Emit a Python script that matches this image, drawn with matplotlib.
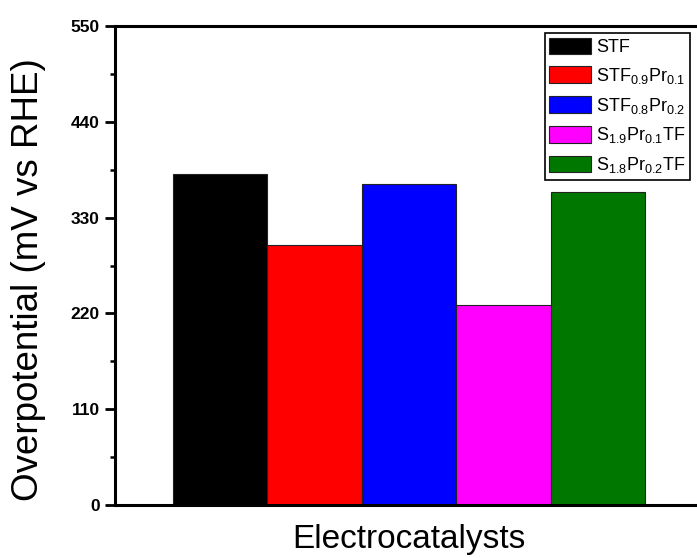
import matplotlib.pyplot as plt
from matplotlib.ticker import MultipleLocator

plt.rcParams['font.family'] = ['Liberation Sans', 'DejaVu Sans']
plt.rcParams['mathtext.fontset'] = 'custom'
plt.rcParams['mathtext.rm'] = 'Liberation Sans'
plt.rcParams['mathtext.it'] = 'Liberation Sans'

catalysts = ['STF', r'STF$_{0.9}$Pr$_{0.1}$', r'STF$_{0.8}$Pr$_{0.2}$',
             r'S$_{1.9}$Pr$_{0.1}$TF', r'S$_{1.8}$Pr$_{0.2}$TF']
overpotential = [380, 298, 369, 230, 359]
colors = ['#000000', '#ff0000', '#0000ff', '#ff00ff', '#007800']
y_ticks = [0, 110, 220, 330, 440, 550]

W, H = 697, 558
fig = plt.figure(figsize=(W / 100, H / 100), dpi=100)
# axes box in pixels: left 115, right 703 (just past the edge), top 26, bottom 505
ax = fig.add_axes([115 / W, (H - 505) / H, 588 / W, 479 / H])

for i, (name, val, c) in enumerate(zip(catalysts, overpotential, colors)):
    ax.bar(i, val, width=1.0, color=c, edgecolor='#222222', linewidth=0.8, label=name)

ax.set_xlim(-1.114, 5.114)
ax.set_ylim(0, 550)
ax.set_yticks(y_ticks)
ax.yaxis.set_minor_locator(MultipleLocator(55))
ax.set_xticks([])
ax.tick_params(axis='y', which='major', direction='out', length=7, width=2, labelsize=12.5, pad=4)
ax.tick_params(axis='y', which='minor', direction='out', length=3.5, width=1.8)
for lbl in ax.get_yticklabels():
    lbl.set_fontweight('bold')
for s in ax.spines.values():
    s.set_linewidth(2.2)

ax.set_ylabel('Overpotential (mV vs RHE)', fontsize=26.5)
ax.yaxis.set_label_coords(-0.118, 0.47)
ax.set_xlabel('Electrocatalysts', fontsize=24)
ax.xaxis.set_label_coords(0.5, -0.04)

leg = ax.legend(loc='upper left', bbox_to_anchor=(0.731, 0.985), fontsize=13,
                frameon=True, fancybox=False, edgecolor='black', framealpha=1,
                handlelength=2.28, handleheight=1.05, labelspacing=0.54,
                handletextpad=0.3, borderpad=0.25, borderaxespad=0)
leg.get_frame().set_linewidth(1.2)

fig.savefig('out.png', dpi=100)
